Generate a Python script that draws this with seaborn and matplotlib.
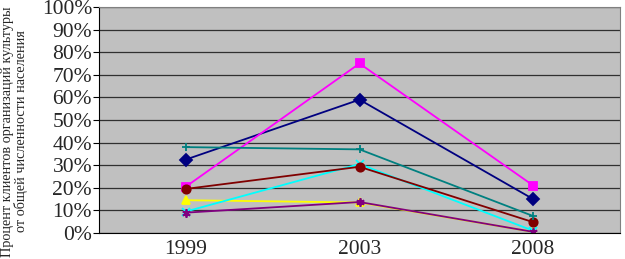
import pandas as pd
import seaborn as sns
import matplotlib.pyplot as plt
from matplotlib.ticker import MultipleLocator, PercentFormatter

# =========================
# DATA
# =========================

years = ["1999", "2003", "2008"]

navy_diamond = [32.5, 59.0, 15.0]
magenta_square = [20.5, 75.0, 21.0]
yellow_triangle = [14.5, 13.5, 0.5]
cyan_cross = [9.5, 30.5, 1.0]
purple_star = [9.0, 13.7, 0.5]
maroon_circle = [19.5, 29.3, 4.8]
teal_plus = [38.0, 37.0, 7.5]

series = [
    (navy_diamond, "#000080", "D"),
    (magenta_square, "#FF00FF", "s"),
    (yellow_triangle, "#FFFF00", "^"),
    (cyan_cross, "#00FFFF", "x"),
    (purple_star, "#800080", (6, 2, 0)),
    (maroon_circle, "#800000", "o"),
    (teal_plus, "#008080", "+"),
]

ylabel = "Процент клиентов организаций культуры\nот общей численности населения"

# =========================
# PLOT
# =========================

sns.set_style("white")
plt.rcParams["font.family"] = ["Liberation Serif", "DejaVu Serif"]

fig = plt.figure(figsize=(6.25, 2.59), dpi=100)
ax = fig.add_axes([0.1584, 0.1004, 0.8336, 0.8726])
ax.set_facecolor("#C0C0C0")

for vals, color, marker in series:
    df = pd.DataFrame({"year": years, "value": vals})
    sns.lineplot(
        data=df, x="year", y="value", ax=ax, color=color, marker=marker,
        markersize=6, markeredgecolor=color, markeredgewidth=1.3,
        linewidth=1.3, sort=False,
    )

ax.set_xlim(-0.5, 2.5)
ax.set_ylim(0, 100)
ax.yaxis.set_major_locator(MultipleLocator(10))
ax.yaxis.set_major_formatter(PercentFormatter(decimals=0))
ax.set_axisbelow(True)
ax.grid(axis="y", color="#303030", linewidth=0.9)

ax.set_xticks([0, 1, 2])
ax.set_xticklabels(years)
ax.set_xticks([0.5, 1.5], minor=True)
ax.tick_params(axis="x", which="major", length=0, labelsize=15.5, pad=5)
ax.tick_params(axis="x", which="minor", length=4, direction="out", color="black")
ax.tick_params(axis="y", length=4, direction="out", labelsize=15.5, pad=1, color="black", left=True)

for side in ["top", "right"]:
    ax.spines[side].set_color("#808080")
for side in ["left", "bottom"]:
    ax.spines[side].set_color("black")

ax.set_xlabel("")
ax.set_ylabel(ylabel, fontsize=10.3, linespacing=1.0)
ax.yaxis.set_label_coords(-0.136, 0.45)

plt.savefig("out.png", dpi=100)
